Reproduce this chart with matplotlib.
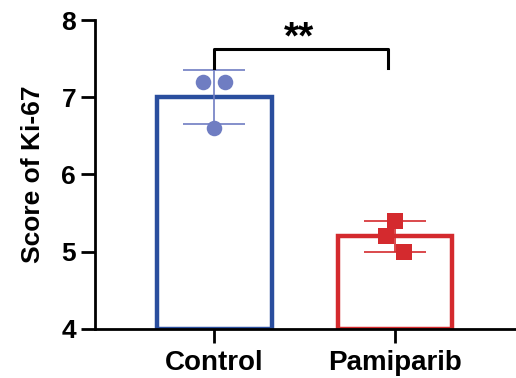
import numpy as np
import matplotlib.pyplot as plt

plt.rcParams['font.family'] = ['Liberation Sans', 'DejaVu Sans']
plt.rcParams['font.weight'] = 'bold'

# data
groups = ['Control', 'Pamiparib']
control_pts = [7.2, 7.2, 6.6]
pami_pts = [5.4, 5.2, 5.0]
# small horizontal offsets of the scatter points
control_jit = [-0.06, 0.06, 0.0]
pami_jit = [0.0, -0.05, 0.05]

edge_cols = ['#2A4E9E', '#D42A2E']
pt_cols = ['#6F7DC2', '#D42A2E']

fig = plt.figure(figsize=(5.16, 3.78), dpi=100)
ax = fig.add_axes([0.184, 0.130, 0.816, 0.817])

data = [control_pts, pami_pts]
jits = [control_jit, pami_jit]
markers = ['o', 's']
x = np.arange(len(groups))
for i in range(len(groups)):
    vals = np.array(data[i])
    m = vals.mean()
    sd = vals.std(ddof=1)
    ax.bar(x[i], m - 4, bottom=4, width=0.635, facecolor='white',
           edgecolor=edge_cols[i], linewidth=3.2, zorder=2)
    ax.errorbar(x[i], m, yerr=sd, color=pt_cols[i], capsize=22,
                elinewidth=1.2, capthick=1.2, zorder=3)
    ax.scatter(x[i] + np.array(jits[i]), vals, marker=markers[i], s=125,
               color=pt_cols[i], zorder=4, linewidths=0)

# significance bracket
ax.plot([0, 0, 0.96, 0.96], [7.38, 7.62, 7.62, 7.38], color='black',
        lw=2.2, clip_on=False, zorder=5)
ax.text(0.47, 7.76, '**', ha='center', va='center', fontsize=28,
        fontweight='bold')

ax.set_ylim(4, 8)
ax.set_xlim(-0.66, 1.67)
ax.set_yticks([4, 5, 6, 7, 8])
ax.set_xticks(x)
ax.set_xticklabels(groups, fontsize=20, fontweight='bold')
ax.tick_params(axis='y', labelsize=19, width=2, length=10)
ax.tick_params(axis='x', width=2, length=10, pad=5)
ax.set_ylabel('Score of Ki-67', fontsize=19, fontweight='bold', labelpad=12)
for s in ['top', 'right']:
    ax.spines[s].set_visible(False)
for s in ['left', 'bottom']:
    ax.spines[s].set_linewidth(2)

plt.savefig('out.png', dpi=100)
